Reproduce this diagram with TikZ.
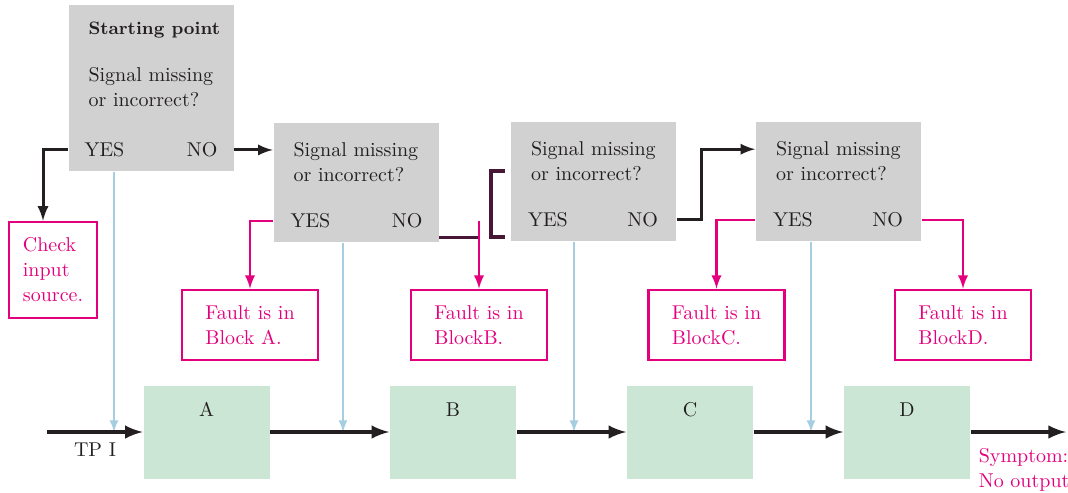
\documentclass[tikz,border=0pt]{standalone}
\usepackage{tikz}
\usetikzlibrary{calc}
\usepackage{amsmath}
\definecolor{boxgray}{RGB}{209,209,209}
\definecolor{blkgreen}{RGB}{204,230,213}
\definecolor{fmag}{RGB}{228,0,124}
\definecolor{plum}{RGB}{72,22,54}
\definecolor{tpblue}{RGB}{166,205,224}
\definecolor{ink}{RGB}{35,31,32}
\begin{document}
\begin{tikzpicture}[x=0.5pt, y=-0.5pt, thick, text=ink,
    ques/.style = {fill=boxgray, minimum width=82.5pt, minimum height=59.5pt, inner sep=0pt},
    qtxt/.style = {anchor=north west, align=left, inner sep=0pt},
    yeslbl/.style = {anchor=base west, inner sep=0pt},
    nolbl/.style = {anchor=base east, inner sep=0pt},
    fault/.style = {draw=fmag, line width=1.3pt, text=fmag, align=left, minimum width=68pt, minimum height=35pt},
    blk/.style = {fill=blkgreen, minimum width=63pt, minimum height=46.5pt, text height=7pt, text depth=23pt},
    arr/.style = {ink, line width=1.5pt, -latex},
    mag/.style = {fmag, line width=1.3pt, -latex},
    bus/.style = {ink, line width=2pt, -latex},
    tp/.style = {tpblue, line width=1pt, -latex}]
    \useasboundingbox (0,0) rectangle (1068,492);
    % question boxes
    \node[ques, minimum height=83pt] (q1) at (151,88) {};
    \node[ques] (q2) at (356,182.5) {};
    \node[ques] (q3) at (593.5,181.5) {};
    \node[ques] (q4) at (838.5,181.5) {};
    \node[qtxt] (s1) at ([xshift=10pt,yshift=-8.5pt]q1.north west) {{\fontsize{9}{11}\selectfont\textbf{Starting point}}\\[11.5pt]Signal missing\\[0.5pt]or incorrect?};
    \node[qtxt] (s2) at ([xshift=10pt,yshift=-9.5pt]q2.north west) {Signal missing\\[0.5pt]or incorrect?};
    \node[qtxt] (s3) at ([xshift=10pt,yshift=-9.5pt]q3.north west) {Signal missing\\[0.5pt]or incorrect?};
    \node[qtxt] (s4) at ([xshift=10pt,yshift=-9.5pt]q4.north west) {Signal missing\\[0.5pt]or incorrect?};
    \node[yeslbl] (y1) at ([xshift=8pt,yshift=7.5pt]q1.south west) {YES};
    \node[nolbl] (n1) at ([xshift=-8pt,yshift=7.5pt]q1.south east) {NO};
    \node[yeslbl] (y2) at ([xshift=8.5pt,yshift=7.5pt]q2.south west) {YES};
    \node[nolbl] (n2) at ([xshift=-8pt,yshift=7.5pt]q2.south east) {NO};
    \node[yeslbl] (y3) at ([xshift=8.5pt,yshift=7.5pt]q3.south west) {YES};
    \node[nolbl] (n3) at ([xshift=-9pt,yshift=7.5pt]q3.south east) {NO};
    \node[yeslbl] (y4) at ([xshift=8.5pt,yshift=7.5pt]q4.south west) {YES};
    \node[nolbl] (n4) at ([xshift=-9pt,yshift=7.5pt]q4.south east) {NO};
    % outcome boxes
    \node[fault, minimum width=44pt, minimum height=48pt] (chk) at (53,270) {Check\\[0.5pt]input\\[0.5pt]source.};
    \node[fault] (fA) at (250,325) {Fault is in\\[0.5pt]Block A.};
    \node[fault] (fB) at (479,325) {Fault is in\\[0.5pt]BlockB.};
    \node[fault] (fC) at (716.5,325) {Fault is in\\[0.5pt]BlockC.};
    \node[fault] (fD) at (963,325) {Fault is in\\[0.5pt]BlockD.};
    % signal chain
    \node[blk] (A) at (206.5,432) {A};
    \node[blk] (B) at (453,432) {B};
    \node[blk] (C) at (690,432) {C};
    \node[blk] (D) at (907,432) {D};
    \coordinate (in) at (47,432);
    \coordinate (out) at (1066,432);
    \coordinate (t1) at (114,432);
    \coordinate (t2) at (343,432);
    \coordinate (t3) at (574,432);
    \coordinate (t4) at (811,432);
    \node (tp) at (95,450) {TP I};
    \node[text=fmag, align=left, anchor=north west, inner sep=0pt] (sym) at (978,448) {Symptom:\\[0.5pt]No output};
    \draw[tp] (q1.south -| t1) -- (t1);
    \draw[tp] (q2.south -| t2) -- (t2);
    \draw[tp] (q3.south -| t3) -- (t3);
    \draw[tp] (q4.south -| t4) -- (t4);
    \draw[bus] (in) -- (A);
    \draw[bus] (A) -- (B);
    \draw[bus] (B) -- (C);
    \draw[bus] (C) -- (D);
    \draw[bus] (D) -- (out);
    % decisions
    \draw[arr] (q1.east |- n1) -- (q2.west |- n1);
    \draw[arr] (q1.west |- y1) -| ([xshift=-5pt]chk.north);
    \draw[mag] (q2.west |- y2) -| (fA.north);
    \coordinate (b2) at ([yshift=2.5pt]q2.south east);
    \draw[plum, line width=1.5pt] (b2) -- (b2 -| fB.north);
    \draw[mag] (fB.north |- n2) -- (fB.north);
    \draw[plum, line width=2pt] (505,171) -| (491,237) -- (505,237);
    \draw[arr] (q3.east |- n3) -- ++(25,0) |- ([yshift=-14pt]q4.north west);
    \draw[mag] (q4.west |- y4) -| (fC.north);
    \draw[mag] (q4.east |- n4) -| (fD.north);
\end{tikzpicture}
\end{document}
